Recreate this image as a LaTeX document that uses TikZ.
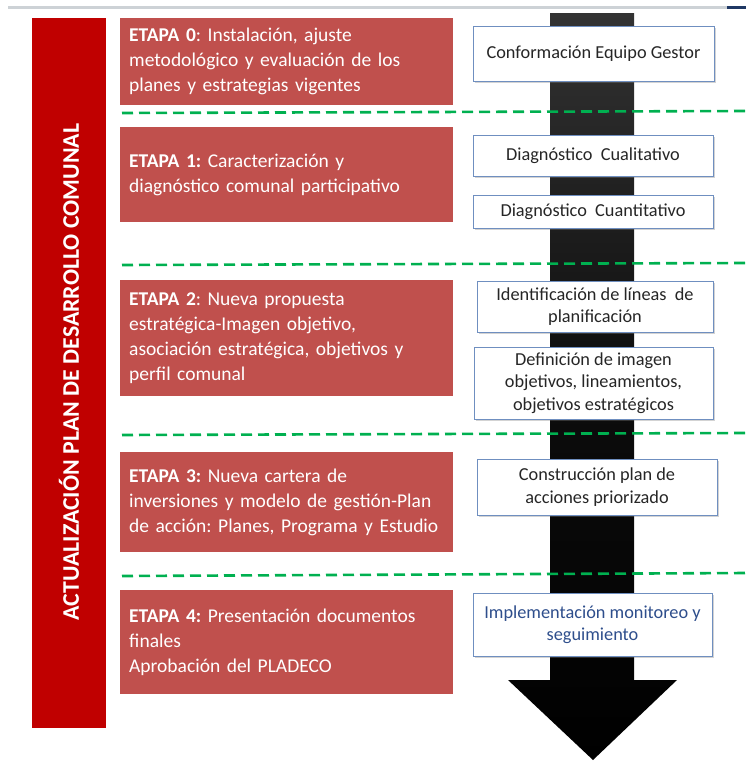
\documentclass[tikz,border=0pt]{standalone}
\usepackage{fontspec}
\setmainfont{Carlito}
\frenchspacing
\usetikzlibrary{shadows}
\definecolor{barred}{HTML}{C00000}
\definecolor{stagered}{HTML}{C0504D}
\definecolor{boxblue}{HTML}{6F8FC0}
\definecolor{dashgreen}{HTML}{00B050}
\definecolor{topgray}{HTML}{CDD2D6}
\definecolor{topblue}{HTML}{1F3864}
\definecolor{txtgray}{HTML}{262626}
\definecolor{txtblue}{HTML}{2E4E8C}
\definecolor{arrowtop}{HTML}{333333}
\tikzset{
  stagebox/.style={fill=stagered, draw=none, anchor=north west, minimum width=333pt,
    text width=315pt, inner xsep=9pt, align=left, text=white,
    font=\fontsize{19.5}{24.8}\selectfont},
  actbox/.style={fill=white, draw=boxblue, line width=1pt, align=center, text=txtgray,
    inner sep=2pt, font=\fontsize{18.3}{22.5}\selectfont,
    drop shadow={shadow xshift=1.5pt, shadow yshift=-2pt, opacity=0.35, fill=gray}},
  sepline/.style={draw=dashgreen, line width=2.6pt, dash pattern=on 11pt off 6pt}
}
\begin{document}
\begin{tikzpicture}[x=1pt,y=-1pt]
\useasboundingbox (0,0) rectangle (746,761);
% top line
\draw[topgray, line width=3pt] (8,7) -- (727,7);
\draw[topblue, line width=3pt] (727,7) -- (746,7);
% left bar
\node[fill=barred, minimum width=74pt, minimum height=710pt, inner sep=0pt, anchor=north west] (bar) at (32,18) {};
\node[rotate=90, text=white, font=\fontsize{23.8}{28}\selectfont\bfseries] (title) at (69,372) {ACTUALIZACIÓN PLAN DE DESARROLLO COMUNAL};
% stage boxes
\node[stagebox, minimum height=87pt] (e0) at (120,18) {\textbf{ETAPA 0}: Instalación, ajuste\\metodológico y evaluación de los\\planes y estrategias vigentes};
\node[stagebox, minimum height=95pt] (e1) at (120,127) {\textbf{ETAPA 1:} Caracterización y\\diagnóstico comunal participativo};
\node[stagebox, minimum height=116pt] (e2) at (120,280) {\textbf{ETAPA 2}: Nueva propuesta\\estratégica-Imagen objetivo,\\asociación estratégica, objetivos y\\perfil comunal};
\node[stagebox, minimum height=100pt] (e3) at (120,452) {\textbf{ETAPA 3:} Nueva cartera de\\inversiones y modelo de gestión-Plan\\de acción: Planes, Programa y Estudio};
\node[stagebox, minimum height=104pt] (e4) at (120,590) {\textbf{ETAPA 4:} Presentación documentos\\finales\\Aprobación del PLADECO};
% arrow
\shade[top color=arrowtop, bottom color=black, middle color=black!95]
  (550,13) -- (634,13) -- (634,680) -- (677,680) -- (593,760) -- (508,680) -- (550,680) -- cycle;
% activity boxes
\node[actbox, minimum width=241pt, minimum height=55pt] (a0) at (593.5,53.5) {Conformación Equipo Gestor};
\node[actbox, minimum width=240pt, minimum height=41pt] (a1) at (593,155.5) {Diagnóstico~ Cualitativo};
\node[actbox, minimum width=240pt, minimum height=33pt] (a2) at (593,211.5) {Diagnóstico~ Cuantitativo};
\node[actbox, minimum width=236pt, minimum height=51pt] (a3) at (595,306.5) {Identificación de líneas~ de\\planificación};
\node[actbox, minimum width=239pt, minimum height=72pt] (a4) at (593.5,383) {Definición de imagen\\objetivos, lineamientos,\\objetivos estratégicos};
\node[actbox, minimum width=240pt, minimum height=56pt] (a5) at (597,487) {Construcción plan de\\acciones priorizado};
\node[actbox, minimum width=239pt, minimum height=63pt, text=txtblue] (a6) at (592.5,624.5) {Implementación monitoreo y\\seguimiento};
% separators
\draw[sepline] (122,113) -- (746,111);
\draw[sepline] (122,265) -- (746,263);
\draw[sepline] (122,435) -- (746,433);
\draw[sepline] (122,576) -- (746,573);
\end{tikzpicture}
\end{document}
